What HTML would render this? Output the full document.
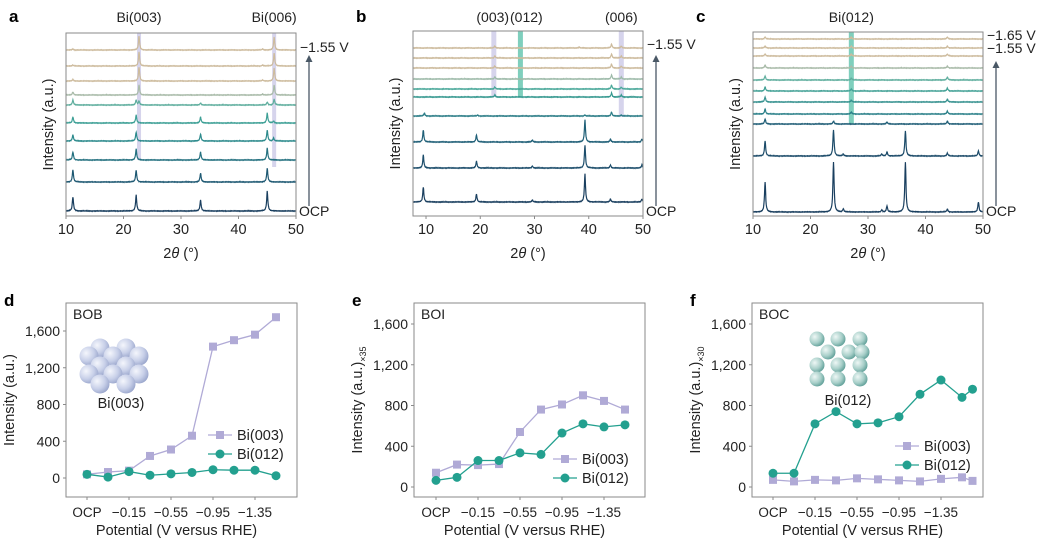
<!DOCTYPE html>
<html><head><meta charset="utf-8"><style>
html,body{margin:0;padding:0;background:#fff}
svg{display:block;font-family:"Liberation Sans",sans-serif}
</style></head><body>
<svg id="fig" width="1039" height="543" viewBox="0 0 1039 543">
<defs>
<radialGradient id="sphB" cx="0.35" cy="0.35" r="0.7"><stop offset="0" stop-color="#f4f6fc"/><stop offset="0.6" stop-color="#c7cfe8"/><stop offset="1" stop-color="#9aa6cc"/></radialGradient>
<radialGradient id="sphT" cx="0.35" cy="0.35" r="0.7"><stop offset="0" stop-color="#eef7f5"/><stop offset="0.6" stop-color="#a8cfc9"/><stop offset="1" stop-color="#5f9f98"/></radialGradient>
</defs>
<g id="root"></g>
</svg>
<script>
// ---------- XRD data (panels a, b, c) ----------
const aBaselines=[50,66,81,95,105,123,141,160,182,211];
const aColors=["#cdbb9d","#cdbb9d","#cdbb9d","#a9bba9","#5fae9e","#3c9f95","#2c8a8c","#23707f","#1d5872","#1a3f5f"];
const aPeaks=[
 [[11.2,1],[22.7,14],[44.2,1],[46.2,13]],
 [[11.2,1],[22.7,14],[44.2,1],[46.2,13]],
 [[11.2,1.5],[22.7,14],[44.2,1],[46.2,13]],
 [[11.2,3],[22.7,10],[44.2,1],[46.2,10]],
 [[11.2,5],[22.2,5],[22.7,4],[33.4,2],[45,3],[46.2,6]],
 [[11.2,6],[22.2,8],[33.4,6],[45,10],[46.1,2]],
 [[11.2,6],[22.2,9],[33.4,7],[45,11],[46.1,3]],
 [[11.2,8],[22.2,11],[33.4,8],[45,12]],
 [[11.2,12],[22.2,12],[33.4,9],[45,14]],
 [[11.2,14],[22.2,16],[33.4,11],[45,20]]];
const bBaselines=[48,58,68,79,89,97,116,142,168,202];
const bColors=["#cdbb9d","#cdbb9d","#cdbb9d","#9dbaa9","#4aa89a","#35988f","#2a7c86","#1f5f77","#1c4d6b","#1a3f5f"];
const bPeaks=[
 [[22.7,2],[38.2,1],[44.2,4],[46,2]],
 [[22.7,2],[44.2,4],[46,2]],
 [[22.7,2],[44.2,4],[46,2]],
 [[22.7,2],[44.2,4],[46,2]],
 [[22.7,2],[44.2,4],[46,2]],
 [[22.7,2],[44.2,4],[46,2]],
 [[9.7,3],[19.5,1],[39.3,1],[44.2,4],[46,1]],
 [[9.5,12],[19.3,7],[29.6,2],[39.3,22],[44,3],[49.8,3]],
 [[9.5,13],[19.3,7],[29.6,2],[39.3,23],[44,3],[49.8,3]],
 [[9.5,15],[19.3,8],[29.6,2],[39.3,28],[44,3],[49.8,3]]];
const cBaselines=[39,48,56,68,80,91,102,114,124,156,212];
const cColors=["#cdbb9d","#cdbb9d","#cdbb9d","#a9bba9","#5fae9e","#45a297","#35918f","#2b8089","#1f5d76","#1c4b69","#1a3f5f"];
const cPeaks=[
 [[12.1,2],[27.1,2],[43.8,2]],
 [[12.1,2],[27.1,2],[43.8,2]],
 [[12.1,2],[27.1,2],[43.8,2]],
 [[12.1,3],[27.1,2],[43.8,2]],
 [[12.1,4],[27.1,2],[43.8,3]],
 [[12.1,4],[27.1,2],[43.8,3]],
 [[12.1,5],[27.1,2],[43.8,3]],
 [[12.1,5],[27.1,2],[43.8,3]],
 [[12.1,5],[24,3],[33.3,2],[43.8,3]],
 [[12.1,15],[24,26],[25.7,2],[32.4,2],[33.3,4],[36.5,25],[43.8,3],[49.2,5]],
 [[12.1,30],[24,50],[25.7,3],[32.4,2],[33.3,6],[36.5,50],[43.8,3],[49.2,10]]];
const xrdTicks=[10,20,30,40,50];

// ---------- Intensity data (panels d, e, f) ----------
const potTickLabels=["OCP","\u22120.15","\u22120.55","\u22120.95","\u22121.35"];
const potTickIdx=[0,2,4,6,8];
const yTicks=[0,400,800,1200,1600];
const yTickLabels=["0","400","800","1,200","1,600"];
const dIdx=[0,1,2,3,4,5,6,7,8,9];
const d003=[40,65,80,240,310,460,1430,1500,1560,1750];
const d012=[40,10,70,30,45,60,90,85,85,25];
const eIdx=[0,1,2,3,4,5,6,7,8,9];
const e003=[140,220,215,225,540,760,810,900,845,760];
const e012=[65,95,260,260,335,320,530,620,590,610];
const fIdx=[0,1,2,3,4,5,6,7,8,9,9.5];
const f003=[70,55,70,65,85,75,65,55,80,95,60];
const f012=[135,135,620,740,620,630,690,910,1050,880,960];

const NS="http://www.w3.org/2000/svg";
const root=document.getElementById("root");
function el(tag,attrs,parent){const e=document.createElementNS(NS,tag);for(const k in attrs)e.setAttribute(k,attrs[k]);(parent||root).appendChild(e);return e;}
function txt(x,y,s,size,anchor,parent,extra){const t=el("text",Object.assign({x:x,y:y,"font-size":size,"text-anchor":anchor||"start",fill:"#222"},extra||{}),parent);t.textContent=s;return t;}

function xrdPanel(cfg){
  const g=el("g",{});
  
  
  const sx=v=>cfg.x0+(v-cfg.d0)/(cfg.d1-cfg.d0)*(cfg.x1-cfg.x0);
  cfg.bands.forEach(b=>{
    const r=el("rect",{x:sx(b[0])-b[3]/2,y:cfg.y0,width:b[3],height:b[1]-cfg.y0,fill:b[2]},g);
    
    
  });
  cfg.base.forEach((by,i)=>{
    let d="";
    for(let v=cfg.d0;v<=cfg.d1+1e-6;v+=0.05){
      let h=0;cfg.peaks[i].forEach(p=>{const w=0.12;h+=p[1]*w*w/((v-p[0])*(v-p[0])+w*w);});
      const jitter=0.35*Math.sin(v*37.1+i*3.3)*Math.sin(v*11.7);
      d+=(d?"L":"M")+sx(v).toFixed(1)+","+(by-h+jitter).toFixed(1);
    }
    const p=el("path",{d:d,fill:"none",stroke:cfg.colors[i],"stroke-width":1.2},g);
    
    
  });
  const fr=el("rect",{x:cfg.x0,y:cfg.y0,width:cfg.x1-cfg.x0,height:cfg.y1-cfg.y0,fill:"none",stroke:"#8a8a8a","stroke-width":1},g);
  
  
  xrdTicks.forEach(t=>{
    el("line",{x1:sx(t),x2:sx(t),y1:cfg.y1,y2:cfg.y1+3,stroke:"#8a8a8a"},g);
    const l=txt(sx(t),cfg.y1+18,String(t),14.5,"middle",g);
    
    
  });
  const xt=el("text",{x:(cfg.x0+cfg.x1)/2,y:258,"font-size":14.5,"text-anchor":"middle",fill:"#222"},g);
  xt.innerHTML='2<tspan font-style="italic">θ</tspan> (°)';
  
  
  const yt=txt(0,0,"Intensity (a.u.)",14.5,"middle",g,{transform:`translate(${cfg.x0-13},${(cfg.y0+cfg.y1)/2}) rotate(-90)`});
  
  
  const lt=txt(cfg.x0-57,22,cfg.letter,17,"start",g,{"font-weight":"bold",fill:"#000"});
  
  
  cfg.topLabels.forEach(t=>{const l=txt(sx(t[0]),22,t[1],14,"middle",g);});
  cfg.vLabels.forEach(t=>{const l=txt(cfg.x1+4,t[0],t[1],14,"start",g);});
  const ax=cfg.x1+13;
  el("line",{x1:ax,x2:ax,y1:206,y2:cfg.arrowTop+6,stroke:"#4a5866","stroke-width":1.3},g);
  const ah=el("path",{d:`M${ax-3.5},${cfg.arrowTop+7}L${ax},${cfg.arrowTop}L${ax+3.5},${cfg.arrowTop+7}Z`,fill:"#4a5866"},g);
  
  
  const oc=txt(cfg.x1+3,216,"OCP",14,"start",g);
  
  
}
xrdPanel({name:"panel-a",letter:"a",x0:66,x1:296,y0:33,y1:216,d0:10,d1:50,base:aBaselines,colors:aColors,peaks:aPeaks,
  bands:[[22.7,160,"#d6d4ec",4],[46.2,167,"#d6d4ec",4]],topLabels:[[22.7,"Bi(003)"],[46.2,"Bi(006)"]],vLabels:[[52,"\u22121.55 V"]],arrowTop:55});
xrdPanel({name:"panel-b",letter:"b",x0:413,x1:643,y0:31,y1:216,d0:7.6,d1:50,base:bBaselines,colors:bColors,peaks:bPeaks,
  bands:[[22.5,97,"#d6d4ec",5],[27.4,97,"#7fcfbd",5],[46,117,"#d6d4ec",5]],topLabels:[[22.3,"(003)"],[28.5,"(012)"],[46,"(006)"]],vLabels:[[49,"\u22121.55 V"]],arrowTop:55});
xrdPanel({name:"panel-c",letter:"c",x0:753,x1:983,y0:32,y1:216,d0:10,d1:50,base:cBaselines,colors:cColors,peaks:cPeaks,
  bands:[[27.1,124,"#7fcfbd",5]],topLabels:[[27.1,"Bi(012)"]],vLabels:[[40,"\u22121.65 V"],[53,"\u22121.55 V"]],arrowTop:61});

function spheres(grad,pts,r,parent){
  const g=el("g",{},parent);
  
  
  pts.forEach(p=>el("circle",{cx:p[0],cy:p[1],r:r,fill:`url(#${grad})`},g));
}

function linePanel(cfg){
  const g=el("g",{});
  
  
  const sx=i=>cfg.xOcp+i*21;
  const sy=v=>cfg.yZero-v/1600*(cfg.yZero-cfg.y1600);
  const fr=el("rect",{x:cfg.x0,y:cfg.y0,width:cfg.x1-cfg.x0,height:cfg.y1-cfg.y0,fill:"none",stroke:"#8a8a8a","stroke-width":1},g);
  
  
  yTicks.forEach((t,k)=>{
    el("line",{x1:cfg.x0-3,x2:cfg.x0,y1:sy(t),y2:sy(t),stroke:"#8a8a8a"},g);
    const l=txt(cfg.x0-6,sy(t)+5,yTickLabels[k],14,"end",g);
    
    
  });
  potTickIdx.forEach((ix,k)=>{
    el("line",{x1:sx(ix),x2:sx(ix),y1:cfg.y1,y2:cfg.y1+3,stroke:"#8a8a8a"},g);
    const l=txt(sx(ix),cfg.y1+20,potTickLabels[k],13.5,"middle",g);
    
    
  });
  const xt=txt((cfg.x0+cfg.x1)/2-5,535,"Potential (V versus RHE)",14.5,"middle",g);
  
  
  const yt=el("text",{"font-size":14.5,"text-anchor":"middle",fill:"#222",transform:`translate(${cfg.x0-52},${(cfg.y0+cfg.y1)/2}) rotate(-90)`},g);
  yt.innerHTML='Intensity (a.u.)'+(cfg.sub?`<tspan font-size="9" dy="4">×${cfg.sub}</tspan>`:'');
  
  
  const lt=txt(cfg.x0-62,306,cfg.letter,17,"start",g,{"font-weight":"bold",fill:"#000"});
  
  
  const st=txt(cfg.x0+7,319,cfg.sample,14,"start",g);
  
  
  if(cfg.inset) cfg.inset(g);
  const series=[[cfg.s003,"#b0aad6","sq","Bi(003)"],[cfg.s012,"#23a08f","ci","Bi(012)"]];
  series.forEach(s=>{
    const pts=cfg.idx.map((ix,j)=>[sx(ix),sy(s[0][j])]);
    const pl=el("polyline",{points:pts.map(p=>p.join(",")).join(" "),fill:"none",stroke:s[1],"stroke-width":1.3},g);
    
    
    pts.forEach(p=>{
      const m=s[2]=="sq"?el("rect",{x:p[0]-4,y:p[1]-4,width:8,height:8,fill:s[1]},g):el("circle",{cx:p[0],cy:p[1],r:4.5,fill:s[1]},g);
      
      
    });
  });
  series.forEach((s,k)=>{
    const ly=cfg.legY+k*19;
    el("line",{x1:cfg.legX,x2:cfg.legX+24,y1:ly,y2:ly,stroke:s[1],"stroke-width":1.3},g);
    if(s[2]=="sq") el("rect",{x:cfg.legX+8,y:ly-4,width:8,height:8,fill:s[1]},g);
    else el("circle",{cx:cfg.legX+12,cy:ly,r:4.5,fill:s[1]},g);
    const l=txt(cfg.legX+29,ly+5,s[3],14.5,"start",g);
    
    
  });
}
linePanel({name:"panel-d",letter:"d",sample:"BOB",x0:66,x1:297,y0:303,y1:497,yZero:478,y1600:331,xOcp:87,idx:dIdx,s003:d003,s012:d012,legX:208,legY:435,
  inset:g=>{
    const pts=[];
    [[348,[100,126]],[356,[89,113,139]],[366,[100,126]],[374,[89,113,139]],[384,[100,126]]].forEach(r=>r[1].forEach(x=>pts.push([x,r[0]])));
    spheres("sphB",pts,9.5,g);
    const l=txt(121,408,"Bi(003)",14.5,"middle",g);
  }});
linePanel({name:"panel-e",letter:"e",sample:"BOI",sub:"35",x0:414,x1:645,y0:303,y1:497,yZero:487,y1600:324,xOcp:436,idx:eIdx,s003:e003,s012:e012,legX:553,legY:459});
linePanel({name:"panel-f",letter:"f",sample:"BOC",sub:"30",x0:752,x1:983,y0:303,y1:497,yZero:487,y1600:324,xOcp:773,idx:fIdx,s003:f003,s012:f012,legX:895,legY:446,
  inset:g=>{
    const pts=[];
    [[339,[817,838,860]],[352,[828,849,862]],[365,[817,838,860]],[379,[817,838,860]]].forEach(r=>r[1].forEach(x=>pts.push([x,r[0]])));
    spheres("sphT",pts,7.5,g);
    const l=txt(848,405,"Bi(012)",14.5,"middle",g);
  }});
</script>
</body></html>
